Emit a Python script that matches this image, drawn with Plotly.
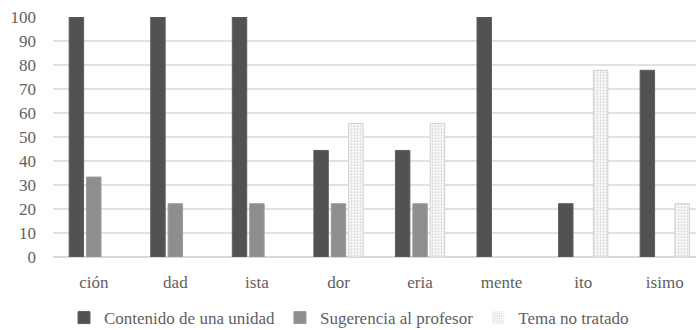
import plotly.graph_objects as go

categories = ["ción", "dad", "ista", "dor", "eria", "mente", "ito", "isimo"]
contenido = [100, 100, 100, 44.4, 44.4, 100, 22.2, 77.8]
sugerencia = [33.3, 22.2, 22.2, 22.2, 22.2, 0, 0, 0]
tema = [0, 0, 0, 55.6, 55.6, 0, 77.8, 22.2]
series_names = ["Contenido de una unidad", "Sugerencia al profesor", "Tema no tratado"]
y_ticks = [0, 10, 20, 30, 40, 50, 60, 70, 80, 90, 100]

FONT = "Liberation Serif"
TXT = "#5f5f5f"


def outline(vals):
    return [0 if v == 0 else 1 for v in vals]


fig = go.Figure()
fig.add_trace(go.Bar(
    x=categories, y=contenido, name=series_names[0],
    marker=dict(color="#525252", line=dict(color="#5e5e5e", width=outline(contenido))),
))
fig.add_trace(go.Bar(
    x=categories, y=sugerencia, name=series_names[1],
    marker=dict(color="#8e8e8e", line=dict(color="#9a9a9a", width=outline(sugerencia))),
))
fig.add_trace(go.Bar(
    x=categories, y=tema, name=series_names[2],
    marker=dict(color="#ffffff", line=dict(color="#d0d0d0", width=outline(tema)),
                pattern=dict(shape=".", fgcolor="#b8b8b8", bgcolor="#ffffff",
                             size=3, solidity=0.45)),
))

fig.update_layout(
    width=696, height=330,
    margin=dict(l=53, r=0, t=17, b=73),
    paper_bgcolor="white", plot_bgcolor="white",
    barmode="group", bargap=0.36, bargroupgap=0.17,
    font=dict(family=FONT, size=17, color=TXT),
    showlegend=True,
    legend=dict(orientation="h", xref="container", yref="container",
                x=64 / 696, xanchor="left", y=1 - 300 / 330, yanchor="top",
                font=dict(family=FONT, size=17, color=TXT),
                bgcolor="rgba(0,0,0,0)", traceorder="normal"),
)
fig.update_xaxes(range=[-0.5, 7.383], showgrid=False, showline=False,
                 zeroline=False, ticks="", ticklabelstandoff=13,
                 tickfont=dict(family=FONT, size=17, color=TXT))
fig.update_yaxes(range=[0, 100], tickvals=y_ticks, showgrid=True,
                 gridcolor="#e2e2e2", gridwidth=1.5, zeroline=True,
                 zerolinecolor="#d9d9d9", zerolinewidth=1.5, showline=False,
                 ticks="", ticklabelstandoff=16,
                 tickfont=dict(family=FONT, size=17, color=TXT))

fig.write_html("out.html")
